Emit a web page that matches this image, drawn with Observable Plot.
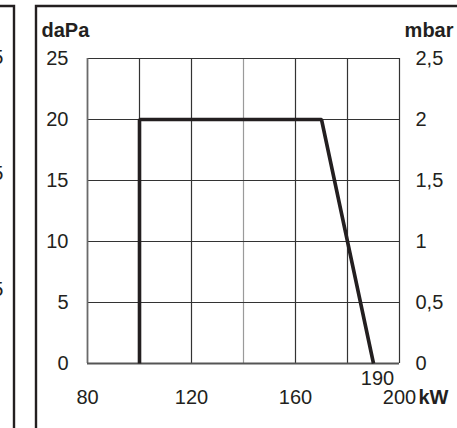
<!DOCTYPE html>
<html>
<head>
<meta charset="utf-8">
<script src="https://cdn.jsdelivr.net/npm/d3@7"></script>
<script src="https://cdn.jsdelivr.net/npm/@observablehq/plot@0.6"></script>
<style>
  html, body { margin: 0; padding: 0; background: #fff; }
</style>
</head>
<body>
<div id="chart"></div>
<script>
// Data
const kW = [100, 100, 170, 190];
const daPa = [0, 20, 20, 0];
const xTicks = [80, 120, 160, 200];
const xGrid = [100, 120, 140, 160, 180];
const yTicks = [0, 5, 10, 15, 20, 25];
const yGrid = [5, 10, 15, 20];
const mbarLabels = ["0", "0,5", "1", "1,5", "2", "2,5"];
const markedX = [190];
const fragmentLabels = ["2,5", "1,5", "0,5"];

const points = kW.map((x, i) => ({x, y: daPa[i]}));
const ink = "#231f20";
const font = "'Liberation Sans', Arial, Helvetica, sans-serif";

const plot = Plot.plot({
  width: 457,
  height: 428,
  marginLeft: 87,
  marginRight: 58,
  marginTop: 58,
  marginBottom: 65,
  style: {fontFamily: font, fontSize: "20px", color: ink, background: "#fff"},
  x: {domain: [80, 200]},
  y: {domain: [0, 25]},
  marks: [
    Plot.ruleX(xGrid, {stroke: d => d === 140 ? "#9a9a9a" : "#333", strokeWidth: 1.2}),
    Plot.ruleY(yGrid, {stroke: "#333", strokeWidth: 1.2}),
    Plot.ruleX([200], {stroke: "#333", strokeWidth: 1.2}),
    Plot.ruleY([25], {stroke: "#333", strokeWidth: 1.2}),
    Plot.ruleX([80], {stroke: "#6a6a6a", strokeWidth: 1.8}),
    Plot.ruleY([0], {stroke: "#555", strokeWidth: 1.8}),
    Plot.line(points, {x: "x", y: "y", stroke: ink, strokeWidth: 3.6, strokeLinejoin: "miter", strokeLinecap: "butt"}),
    Plot.axisY(yTicks, {anchor: "left", tickSize: 0, tickPadding: 19, label: null, fill: ink}),
    Plot.axisY(yTicks, {anchor: "right", tickSize: 0, tickPadding: 16, label: null, fill: ink,
      tickFormat: d => mbarLabels[yTicks.indexOf(d)]}),
    Plot.axisX(xTicks, {anchor: "bottom", tickSize: 0, tickPadding: 26, label: null, fill: ink}),
    Plot.text(markedX, {x: d => d, y: 0, text: d => String(d), dx: 4, dy: 15, fill: ink}),
    Plot.text(["kW"], {frameAnchor: "bottom-right", textAnchor: "start", lineAnchor: "top", dx: 19, dy: 26, fontWeight: "bold", fill: ink}),
    Plot.text(["daPa"], {frameAnchor: "top-left", textAnchor: "start", dx: -46, dy: -36, fontWeight: "bold", fill: ink}),
    Plot.text(["mbar"], {frameAnchor: "top-right", textAnchor: "end", dx: 54, dy: -36, fontWeight: "bold", fill: ink})
  ]
});

// decorative panel borders (outer box of this panel and the neighbouring one)
const svg = d3.select(plot);
const deco = svg.append("g").attr("fill", "none").attr("stroke", ink).attr("stroke-width", 2.4);
deco.append("path").attr("d", "M36,440V6H470");
deco.append("path").attr("d", "M-10,6H14V440");
const frag = svg.append("g").attr("fill", ink).attr("font-family", font).attr("font-size", 20).attr("text-anchor", "end");
const fragY = d3.scaleLinear().domain([0, 2]).range([58, 290]);
fragmentLabels.forEach((t, i) => {
  frag.append("text").attr("x", 3.5).attr("y", fragY(i)).attr("dy", "0.32em").text(t);
});

document.getElementById("chart").appendChild(plot);
</script>
</body>
</html>
